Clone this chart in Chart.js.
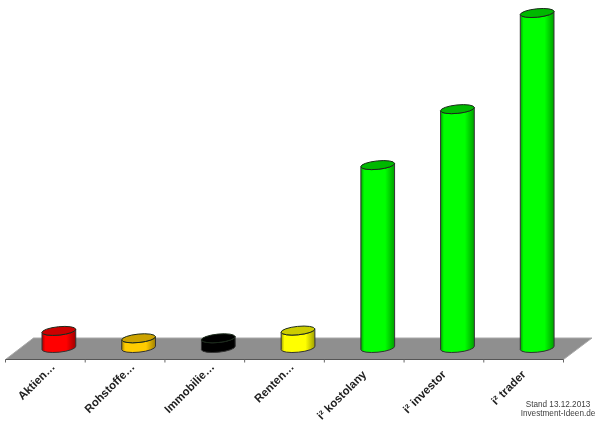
<!DOCTYPE html>
<html>
<head>
<meta charset="utf-8">
<style>html,body{margin:0;padding:0;background:#fff}#w{position:relative;width:600px;height:421px}</style>
<script src="https://cdn.jsdelivr.net/npm/chart.js@4"></script>
</head>
<body>
<div id="w"><canvas id="c" width="600" height="421"></canvas></div>
<script>
const categories = ['Aktien…','Rohstoffe…','Immobilie…','Renten…','i² kostolany','i² investor','i² trader'];
const values = [5.1, 2.9, 2.9, 5.2, 54.6, 71.3, 100];
const sideColors = ['#ff0000','#ffcc00','#000000','#ffff00','#00ff00','#00ff00','#00ff00'];
const edgeColors = ['#a00000','#a08000','#000000','#a0a000','#00a000','#00a000','#00a000'];
const topColors = ['#cc0000','#cca300','#000000','#cccc00','#00b800','#00b800','#00b800'];
const footerLines = ['Stand 13.12.2013','Investment-Ideen.de'];

const TILT = -0.1, RY = 4.2;

const scene = {
  id: 'scene',
  beforeDraw(chart) {
    // the reference places shortened labels further up and right than full ones
    chart.scales.x.getLabelItems().forEach((item, i) => {
      const shortened = categories[i].endsWith('…');
      const t = item.options.translation;
      item.options.translation = [t[0] + (shortened ? -5.5 : -13), t[1] + (shortened ? -7.5 : 0)];
    });
  },
  beforeDatasetsDraw(chart) {
    const {ctx, scales:{x, y}} = chart;
    const step = x.getPixelForValue(1) - x.getPixelForValue(0);
    const base = y.getPixelForValue(0);
    const fy = base + 11.5, by = base - 10;
    const fx0 = x.getPixelForValue(0) - step/2 - 13.5;
    const fx1 = x.getPixelForValue(categories.length-1) + step/2 - 13.5;
    ctx.save();
    ctx.beginPath();
    ctx.moveTo(fx0, fy);
    ctx.lineTo(fx0 + 28, by);
    ctx.lineTo(fx1 + 28.5, by);
    ctx.lineTo(fx1, fy);
    ctx.closePath();
    ctx.fillStyle = '#8f8f8f';
    ctx.fill();
    ctx.strokeStyle = '#a8a8a8';
    ctx.lineWidth = 1;
    ctx.beginPath();
    ctx.moveTo(fx0, fy); ctx.lineTo(fx0+28, by); ctx.lineTo(fx1+28.5, by); ctx.lineTo(fx1, fy);
    ctx.stroke();
    ctx.strokeStyle = '#555555';
    ctx.lineWidth = 1.2;
    ctx.beginPath();
    ctx.moveTo(fx0, fy); ctx.lineTo(fx1, fy);
    ctx.stroke();
    ctx.strokeStyle = '#666666';
    ctx.lineWidth = 1;
    ctx.beginPath();
    for (let i = 0; i <= categories.length; i++) {
      const tx = fx0 + i*(fx1-fx0)/categories.length;
      ctx.moveTo(tx, fy); ctx.lineTo(tx, fy+3);
    }
    ctx.stroke();
    ctx.restore();
  },
  afterDatasetsDraw(chart) {
    const {ctx} = chart;
    chart.getDatasetMeta(0).data.forEach((el, i) => {
      const rx = el.width/2, cx = el.x, top = el.y, bot = el.base;
      const dy = Math.sin(TILT)*rx;
      const g = ctx.createLinearGradient(cx-rx, 0, cx+rx, 0);
      g.addColorStop(0, edgeColors[i]);
      g.addColorStop(0.1, sideColors[i]);
      g.addColorStop(0.72, sideColors[i]);
      g.addColorStop(1, edgeColors[i]);
      ctx.save();
      ctx.beginPath();
      ctx.ellipse(cx, top, rx, RY, TILT, Math.PI, 0, true);
      ctx.lineTo(cx+rx, bot+dy);
      ctx.ellipse(cx, bot, rx, RY, TILT, 0, Math.PI, false);
      ctx.closePath();
      ctx.fillStyle = g;
      ctx.fill();
      ctx.strokeStyle = '#333333';
      ctx.lineWidth = 1;
      ctx.stroke();
      ctx.beginPath();
      ctx.ellipse(cx, top, rx, RY, TILT, 0, Math.PI*2);
      ctx.fillStyle = topColors[i];
      ctx.fill();
      ctx.strokeStyle = '#1a2a1a';
      ctx.stroke();
      ctx.restore();
    });
    ctx.save();
    ctx.fillStyle = '#404040';
    ctx.font = '8.2px "Liberation Sans"';
    ctx.textAlign = 'center';
    ctx.textBaseline = 'middle';
    ctx.fillText(footerLines[0], 558, 405);
    ctx.fillText(footerLines[1], 558, 414);
    ctx.restore();
  }
};

new Chart(document.getElementById('c'), {
  type: 'bar',
  data: { labels: categories, datasets: [{ data: values, backgroundColor: 'rgba(0,0,0,0)', borderWidth: 0, barPercentage: 0.425, categoryPercentage: 1 }] },
  plugins: [scene],
  options: {
    responsive: false,
    animation: false,
    devicePixelRatio: 1,
    layout: { padding: { left: 19, right: 23, top: 13, bottom: 0 } },
    plugins: { legend: { display: false }, tooltip: { enabled: false } },
    scales: {
      y: { display: false, min: 0, max: 100 },
      x: {
        grid: { display: false },
        border: { display: false },
        afterFit(s) { s.paddingLeft = 0; s.paddingRight = 0; s.height = 73; },
        ticks: {
          autoSkip: false, minRotation: 45, maxRotation: 45, padding: 12,
          color: '#222222',
          font: { family: '"Liberation Sans"', size: 11.5, weight: 'bold' }
        }
      }
    }
  }
});
</script>
</body>
</html>
